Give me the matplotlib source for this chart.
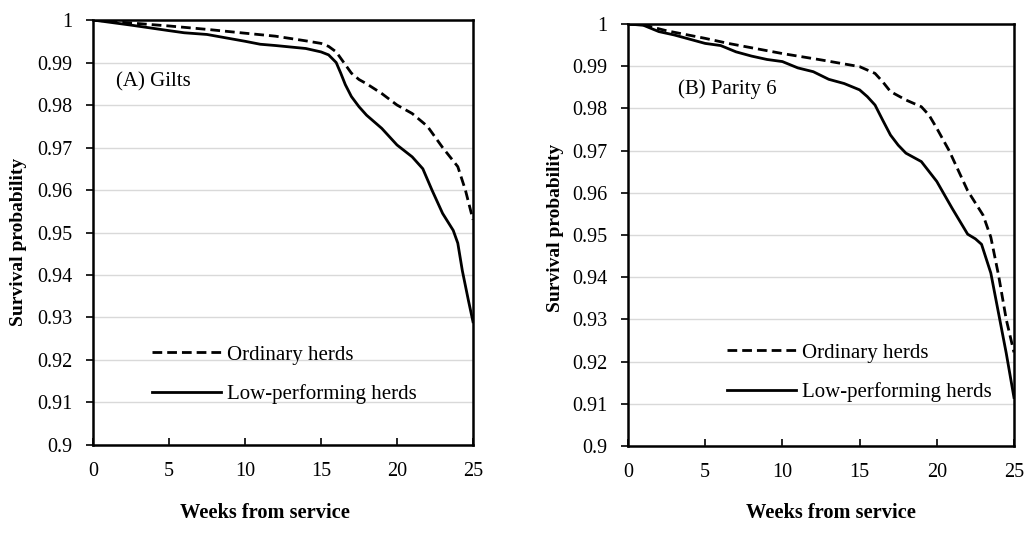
import matplotlib
matplotlib.use('Agg')
import matplotlib.pyplot as plt

# (A) Gilts - weeks from service and survival probability
weeks_a_ord = [0, 2.5, 5, 7.5, 10, 12, 14, 15, 15.5, 16, 16.5, 17, 17.5, 18, 19, 20, 21, 22, 23,
               24, 24.5, 25]
surv_a_ord = [1.0, 0.9993, 0.9986, 0.9978, 0.9969, 0.9962, 0.9951, 0.9945, 0.9938, 0.9925, 0.990,
              0.9875, 0.986, 0.985, 0.9827, 0.980, 0.978, 0.975, 0.970, 0.9655, 0.960, 0.953]
weeks_a_low = [0, 2.5, 5, 6, 7.5, 10, 11, 12, 14, 15, 15.5, 16, 16.3, 16.6, 17, 17.5, 18, 19, 20,
               21, 21.7, 22.3, 23, 23.7, 24, 24.3, 24.7, 25]
surv_a_low = [1.0, 0.9988, 0.9975, 0.997, 0.9966, 0.995, 0.9943, 0.994, 0.9933, 0.9925, 0.9918,
              0.990, 0.9875, 0.9848, 0.982, 0.9796, 0.9776, 0.9745, 0.9706, 0.9678, 0.965, 0.960,
              0.9545, 0.9505, 0.9475, 0.941, 0.934, 0.929]

# (B) Parity 6
weeks_b_ord = [0, 1, 2.5, 5, 6.5, 10, 12.5, 15, 16, 16.5, 17, 18, 19, 19.5, 20, 20.8, 22, 23,
               23.5, 24, 24.5, 25]
surv_b_ord = [1.0, 0.9998, 0.9984, 0.9966, 0.9954, 0.993, 0.9915, 0.9899, 0.9883, 0.9863, 0.984,
              0.982, 0.9804, 0.9784, 0.9753, 0.970, 0.9605, 0.9547, 0.9495, 0.9405, 0.930, 0.9222]
weeks_b_low = [0, 1, 2, 3, 4, 5, 6, 7, 8, 9, 10, 11, 12, 13, 14, 15, 15.5, 16, 16.5, 17, 17.5,
               18, 19, 20, 21, 22, 22.5, 22.9, 23.5, 24, 24.5, 25]
surv_b_low = [1.0, 0.9997, 0.9982, 0.9974, 0.9964, 0.9954, 0.9949, 0.9934, 0.9924, 0.9916, 0.9911,
              0.9896, 0.9887, 0.9869, 0.9859, 0.9844, 0.9828, 0.9808, 0.9772, 0.9737, 0.9713,
              0.9694, 0.9674, 0.9627, 0.9563, 0.9502, 0.9491, 0.9478, 0.941, 0.9315, 0.922, 0.9115]

panel_labels = ['(A) Gilts', '(B) Parity 6']
legend_labels = ['Ordinary herds', 'Low-performing herds']
yticks = [0.9, 0.91, 0.92, 0.93, 0.94, 0.95, 0.96, 0.97, 0.98, 0.99, 1.0]
ytick_labels = ['0.9', '0.91', '0.92', '0.93', '0.94', '0.95', '0.96', '0.97', '0.98', '0.99', '1']
xticks = [0, 5, 10, 15, 20, 25]

plt.rcParams['font.family'] = ['Liberation Serif', 'DejaVu Serif']

fig = plt.figure(figsize=(10.24, 5.47), dpi=100)
ax_a = fig.add_axes([0.0908, 0.1865, 0.3711, 0.7769])
ax_b = fig.add_axes([0.6133, 0.1846, 0.3769, 0.7715])

panels = [
    (ax_a, weeks_a_ord, surv_a_ord, weeks_a_low, surv_a_low),
    (ax_b, weeks_b_ord, surv_b_ord, weeks_b_low, surv_b_low),
]
label_pos = [(0.06, 0.855), (0.13, 0.845)]
legend_pos = [(0.155, 0.235), (0.256, 0.244)]
ylab_pos = [(-0.197, 0.478), (-0.189, 0.517)]
xlab_pos = [(0.453, -0.16), (0.526, -0.159)]

for i, (ax, wo, so, wl, sl) in enumerate(panels):
    ax.plot(wo, so, color='black', lw=2.0, linestyle=(0, (3.5, 1.8)), label=legend_labels[0])
    ax.plot(wl, sl, color='black', lw=2.0, label=legend_labels[1])

    ax.set_xlim(0, 25)
    ax.set_ylim(0.9, 1.0)
    ax.set_yticks(yticks)
    ax.set_yticklabels(ytick_labels)
    ax.set_xticks(xticks)
    ax.grid(axis='y', color='#d9d9d9', lw=1.0)
    ax.set_axisbelow(True)
    for s in ax.spines.values():
        s.set_linewidth(1.8)
        s.set_color('black')
    ax.tick_params(axis='y', direction='out', length=5, width=1.2, labelsize=14.5, pad=10)
    ax.tick_params(axis='x', direction='in', length=5, width=1.2, labelsize=14.5, pad=12)

    ax.text(label_pos[i][0], label_pos[i][1], panel_labels[i], transform=ax.transAxes,
            fontsize=15, va='center', ha='left')

    ax.legend(loc='upper left', bbox_to_anchor=legend_pos[i], frameon=False, fontsize=15,
              handlelength=3.3, handletextpad=0.3, labelspacing=0.95, borderpad=0,
              borderaxespad=0)

    ax.set_ylabel('Survival probability', fontsize=14, fontweight='bold', va='center')
    ax.yaxis.set_label_coords(*ylab_pos[i])
    ax.set_xlabel('Weeks from service', fontsize=14.7, fontweight='bold', va='center')
    ax.xaxis.set_label_coords(*xlab_pos[i])

fig.savefig('out.png', dpi=100)
